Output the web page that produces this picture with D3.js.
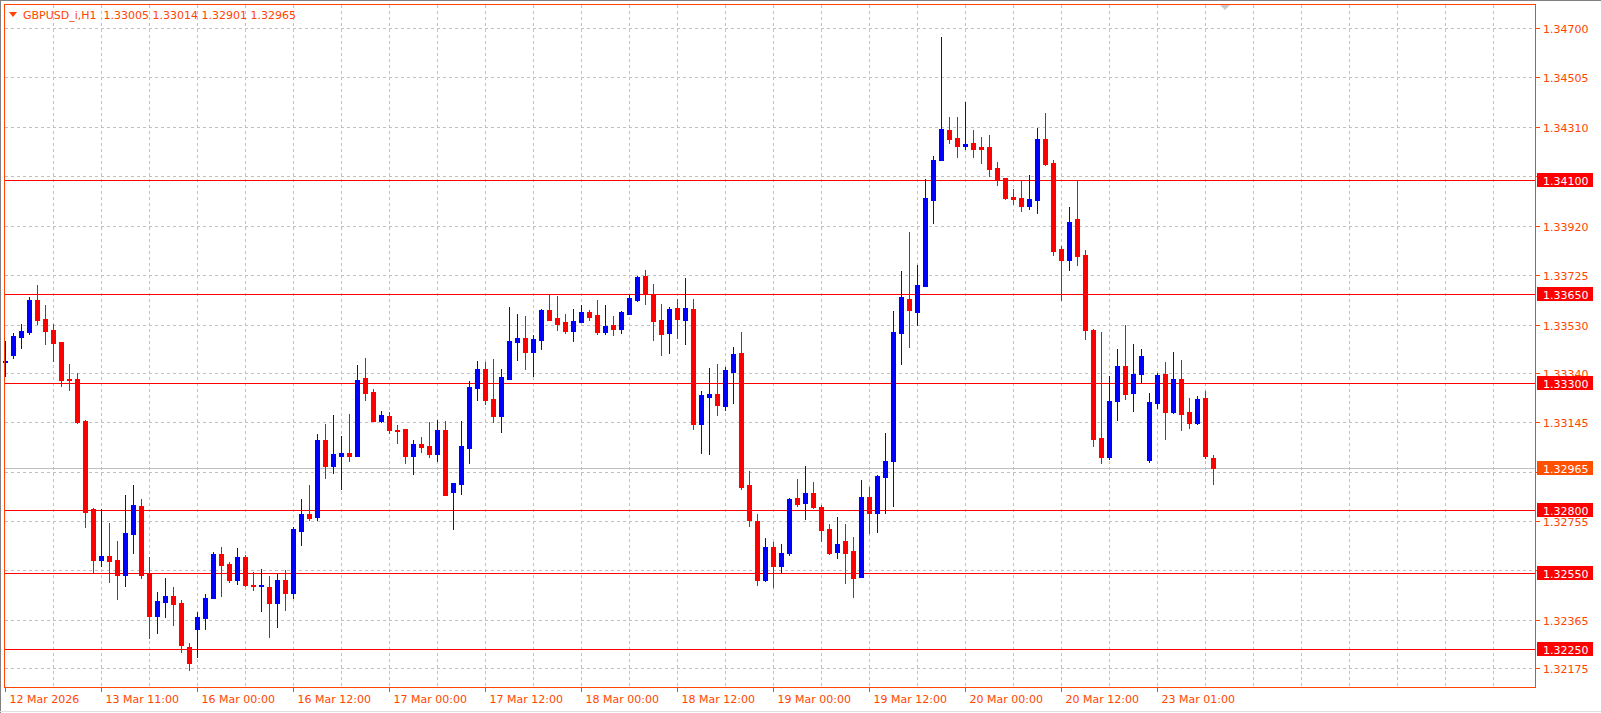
<!DOCTYPE html>
<html>
<head>
<meta charset="utf-8">
<script src="https://cdn.jsdelivr.net/npm/d3@7"></script>
<style>
  body { margin: 0; background: #fff; }
  svg { display: block; font-family: "DejaVu Sans", sans-serif; }
</style>
</head>
<body>
<div id="chart"></div>
<script>
// GBPUSD_i H1 candles
const opens = [1.33383,1.33410,1.33481,1.33501,1.33627,1.33552,1.33509,1.33461,1.33315,1.33315,1.33149,1.32802,1.32601,1.32617,1.32601,1.32542,1.32704,1.32814,1.32550,1.32380,
  1.32435,1.32459,1.32432,1.32258,1.32329,1.32372,1.32451,1.32625,1.32586,1.32522,1.32613,1.32502,1.32498,1.32494,1.32432,1.32522,1.32471,1.32716,1.32783,1.32771,
  1.33075,1.32972,1.33012,1.33024,1.33012,1.33319,1.33264,1.33149,1.33169,1.33114,1.33118,1.33012,1.33059,1.33051,1.33020,1.33114,1.32870,1.32901,1.33043,1.33280,
  1.33355,1.33236,1.33169,1.33315,1.33461,1.33477,1.33422,1.33469,1.33587,1.33556,1.33540,1.33505,1.33540,1.33580,1.33568,1.33501,1.33528,1.33513,1.33572,1.33627,
  1.33722,1.33651,1.33548,1.33497,1.33595,1.33548,1.33591,1.33138,1.33244,1.33256,1.33209,1.33343,1.33418,1.32897,1.32755,1.32522,1.32653,1.32578,1.32629,1.32846,
  1.32826,1.32865,1.32810,1.32724,1.32633,1.32676,1.32637,1.32534,1.32850,1.32787,1.32929,1.32992,1.33497,1.33631,1.33580,1.33682,1.34021,1.34179,1.34298,1.34266,
  1.34234,1.34246,1.34231,1.34231,1.34148,1.34108,1.34033,1.34029,1.33998,1.34021,1.34262,1.34167,1.33828,1.33785,1.33946,1.33805,1.33509,1.33083,1.33008,1.33229,
  1.33367,1.33260,1.33335,1.32996,1.33221,1.33335,1.33185,1.33315,1.33185,1.33141,1.33240,1.33005];
const highs = [1.33465,1.33497,1.33532,1.33639,1.33686,1.33607,1.33532,1.33461,1.33375,1.33339,1.33153,1.32806,1.32802,1.32747,1.32676,1.32857,1.32897,1.32842,1.32613,1.32475,
  1.32530,1.32494,1.32443,1.32274,1.32396,1.32467,1.32633,1.32653,1.32594,1.32649,1.32621,1.32554,1.32566,1.32538,1.32546,1.32562,1.32731,1.32842,1.32897,1.33099,
  1.33138,1.33173,1.33090,1.33177,1.33371,1.33398,1.33276,1.33189,1.33185,1.33134,1.33118,1.33075,1.33087,1.33145,1.33153,1.33149,1.32905,1.33149,1.33307,1.33386,
  1.33382,1.33394,1.33355,1.33599,1.33572,1.33564,1.33489,1.33591,1.33651,1.33643,1.33572,1.33591,1.33607,1.33587,1.33627,1.33607,1.33564,1.33584,1.33647,1.33722,
  1.33745,1.33690,1.33611,1.33599,1.33631,1.33714,1.33631,1.33268,1.33359,1.33375,1.33363,1.33442,1.33501,1.32952,1.32783,1.32688,1.32672,1.32664,1.32846,1.32921,
  1.32972,1.32909,1.32818,1.32743,1.32771,1.32743,1.32692,1.32917,1.32889,1.32937,1.33102,1.33584,1.33741,1.33895,1.33765,1.34104,1.34195,1.34664,1.34349,1.34349,
  1.34408,1.34298,1.34270,1.34278,1.34171,1.34108,1.34065,1.34100,1.34120,1.34306,1.34365,1.34179,1.33840,1.33994,1.34100,1.33824,1.33513,1.33501,1.33327,1.33434,
  1.33528,1.33454,1.33434,1.33260,1.33339,1.33382,1.33422,1.33390,1.33240,1.33248,1.33268,1.33014];
const lows = [1.33327,1.33398,1.33438,1.33493,1.33532,1.33454,1.33386,1.33287,1.33272,1.33141,1.32731,1.32550,1.32578,1.32514,1.32447,1.32498,1.32629,1.32530,1.32294,1.32313,
  1.32376,1.32344,1.32238,1.32167,1.32219,1.32329,1.32451,1.32459,1.32514,1.32506,1.32498,1.32483,1.32400,1.32298,1.32337,1.32404,1.32451,1.32660,1.32759,1.32759,
  1.32925,1.32944,1.32881,1.32992,1.33012,1.33232,1.33149,1.33145,1.33102,1.33063,1.32984,1.32940,1.33028,1.33008,1.32992,1.32858,1.32724,1.32862,1.32984,1.33232,
  1.33217,1.33145,1.33106,1.33315,1.33390,1.33355,1.33327,1.33434,1.33548,1.33509,1.33497,1.33465,1.33540,1.33548,1.33493,1.33493,1.33489,1.33497,1.33572,1.33623,
  1.33611,1.33469,1.33410,1.33418,1.33477,1.33454,1.33118,1.33024,1.33020,1.33173,1.33193,1.33221,1.32881,1.32735,1.32502,1.32518,1.32494,1.32554,1.32621,1.32814,
  1.32763,1.32806,1.32676,1.32625,1.32609,1.32510,1.32455,1.32534,1.32708,1.32712,1.32787,1.32814,1.33375,1.33442,1.33528,1.33682,1.33931,1.34179,1.34246,1.34191,
  1.34223,1.34191,1.34167,1.34116,1.34081,1.34025,1.34006,1.33978,1.33986,1.33970,1.34160,1.33805,1.33627,1.33745,1.33765,1.33473,1.33051,1.32984,1.33000,1.33154,
  1.33236,1.33189,1.33303,1.32988,1.33201,1.33079,1.33181,1.33114,1.33122,1.33138,1.33004,1.32901];
const closes = [1.33387,1.33485,1.33505,1.33627,1.33548,1.33505,1.33458,1.33311,1.33311,1.33145,1.32790,1.32601,1.32617,1.32597,1.32542,1.32708,1.32818,1.32542,1.32380,1.32439,
  1.32459,1.32428,1.32266,1.32195,1.32376,1.32451,1.32625,1.32582,1.32522,1.32613,1.32502,1.32498,1.32502,1.32432,1.32522,1.32471,1.32723,1.32783,1.32767,1.33075,
  1.32972,1.33020,1.33024,1.33012,1.33311,1.33260,1.33149,1.33173,1.33114,1.33110,1.33012,1.33059,1.33047,1.33020,1.33114,1.32858,1.32905,1.33051,1.33284,1.33355,
  1.33232,1.33169,1.33323,1.33465,1.33477,1.33422,1.33473,1.33587,1.33548,1.33532,1.33505,1.33544,1.33580,1.33560,1.33501,1.33524,1.33513,1.33580,1.33635,1.33718,
  1.33651,1.33544,1.33493,1.33591,1.33552,1.33595,1.33138,1.33252,1.33256,1.33213,1.33351,1.33414,1.32889,1.32759,1.32522,1.32653,1.32578,1.32629,1.32842,1.32822,
  1.32865,1.32810,1.32720,1.32629,1.32664,1.32629,1.32530,1.32850,1.32787,1.32933,1.32992,1.33501,1.33639,1.33587,1.33686,1.34029,1.34179,1.34302,1.34262,1.34234,
  1.34242,1.34223,1.34223,1.34144,1.34100,1.34029,1.34025,1.33998,1.34025,1.34262,1.34164,1.33820,1.33785,1.33935,1.33801,1.33509,1.33079,1.33008,1.33229,1.33367,
  1.33256,1.33335,1.33406,1.33225,1.33331,1.33185,1.33315,1.33177,1.33141,1.33236,1.33012,1.32965];

const priceTicks = [1.34700,1.34505,1.34310,1.34115,1.33920,1.33725,1.33530,1.33340,1.33145,1.32950,1.32755,1.32560,1.32365,1.32175];
const hiddenTicks = [1.34115,1.32950,1.32560];
const levels = [1.34100,1.33650,1.33300,1.32800,1.32550,1.32250];
const lastPrice = 1.32965;
const timeTickIdx = [0,12,24,36,48,60,72,84,96,108,120,132,144];
const timeLabels = ["12 Mar 2026","13 Mar 11:00","16 Mar 00:00","16 Mar 12:00","17 Mar 00:00","17 Mar 12:00",
  "18 Mar 00:00","18 Mar 12:00","19 Mar 00:00","19 Mar 12:00","20 Mar 00:00","20 Mar 12:00","23 Mar 01:00"];

const W = 1601, H = 713;
const frame = { l: 4.5, t: 4.5, r: 1535.5, b: 687.5 };
const fg = "#ff4500";

const x = d3.scaleLinear().domain([0, 191.25]).range([5, 1535]);
const y = d3.scaleLinear().domain([1.32175, 1.347]).range([668, 28]);
const px = v => Math.round(x(v)) + 0.5;
const py = v => Math.round(y(v)) + 0.5;

const svg = d3.select("#chart").append("svg").attr("width", W).attr("height", H)
  .attr("shape-rendering", "crispEdges");

svg.append("line").attr("x1", 0.5).attr("x2", 0.5).attr("y1", 0).attr("y2", H).attr("stroke", "#808080");
svg.append("line").attr("x1", 0).attr("x2", W).attr("y1", 0.5).attr("y2", 0.5).attr("stroke", "#808080");
svg.append("line").attr("x1", 0).attr("x2", W).attr("y1", 711.5).attr("y2", 711.5).attr("stroke", "#e0e0e0");

const grid = svg.append("g").attr("stroke", "#c0c0c0").attr("stroke-dasharray", "3,3");
grid.selectAll(".gx").data(d3.range(6, 192, 6)).join("line")
  .attr("x1", d => px(d)).attr("x2", d => px(d)).attr("y1", frame.t).attr("y2", frame.b);
grid.selectAll(".gy").data(priceTicks).join("line")
  .attr("x1", frame.l).attr("x2", frame.r).attr("y1", d => py(d)).attr("y2", d => py(d));

svg.append("line").attr("x1", frame.l).attr("x2", frame.r)
  .attr("y1", py(lastPrice)).attr("y2", py(lastPrice)).attr("stroke", "#c0c0c0");

svg.append("g").attr("stroke", "#ff0000").selectAll("line").data(levels).join("line")
  .attr("x1", frame.l).attr("x2", frame.r).attr("y1", d => py(d)).attr("y2", d => py(d));

// candles
const bars = svg.append("g").selectAll("g").data(opens.map((o, i) => ({ i, o, h: highs[i], l: lows[i], c: closes[i] })))
  .join("g").attr("class", "bar");
bars.each(function (d) {
  const g = d3.select(this);
  const col = d.c >= d.o ? "#0000ff" : "#ff0000";
  const cx = Math.round(x(d.i));
  g.append("line").attr("x1", cx + 0.5).attr("x2", cx + 0.5)
    .attr("y1", Math.round(y(d.h))).attr("y2", Math.round(y(d.l)) + 1).attr("stroke", col);
  const top = Math.round(y(Math.max(d.o, d.c))), bot = Math.round(y(Math.min(d.o, d.c)));
  g.append("rect").attr("x", cx - 2).attr("width", 5)
    .attr("y", top).attr("height", Math.max(1, bot - top + 1)).attr("fill", col);
});

// frame
svg.append("rect").attr("x", frame.l).attr("y", frame.t)
  .attr("width", frame.r - frame.l).attr("height", frame.b - frame.t)
  .attr("fill", "none").attr("stroke", fg);

// price axis
const yax = svg.append("g");
yax.selectAll("line").data(priceTicks).join("line")
  .attr("x1", frame.r).attr("x2", frame.r + 4).attr("y1", d => py(d)).attr("y2", d => py(d)).attr("stroke", fg);
yax.selectAll("text").data(priceTicks.filter(t => !hiddenTicks.includes(t))).join("text")
  .attr("x", 1543).attr("y", d => py(d) + 4).attr("font-size", 11).attr("fill", fg)
  .text(d => d.toFixed(5));

const tag = (v, color) => {
  const g = svg.append("g");
  g.append("rect").attr("x", 1537).attr("y", py(v) - 7.5).attr("width", 56).attr("height", 14).attr("fill", color);
  g.append("text").attr("x", 1543).attr("y", py(v) + 4).attr("font-size", 11).attr("fill", "#fff").text(v.toFixed(5));
};
levels.forEach(v => tag(v, "#ff0000"));
tag(lastPrice, "#ff5000");

// time axis
const xax = svg.append("g");
xax.selectAll("line").data(timeTickIdx).join("line")
  .attr("x1", d => px(d)).attr("x2", d => px(d)).attr("y1", frame.b).attr("y2", frame.b + 4).attr("stroke", fg);
xax.selectAll("text").data(timeTickIdx).join("text")
  .attr("x", d => px(d) + 4).attr("y", 703).attr("font-size", 11).attr("fill", fg)
  .text((d, i) => timeLabels[i]);

// header
svg.append("path").attr("d", "M9,12 L17,12 L13,17 Z").attr("fill", fg).attr("shape-rendering", "auto");
svg.append("text").attr("x", 23).attr("y", 19).attr("font-size", 11).attr("fill", fg)
  .attr("xml:space", "preserve").text("GBPUSD_i,H1  1.33005 1.33014 1.32901 1.32965");
svg.append("path").attr("d", "M1220,5 L1230,5 L1225,10 Z").attr("fill", "#c8c8c8").attr("shape-rendering", "auto");
</script>
</body>
</html>
